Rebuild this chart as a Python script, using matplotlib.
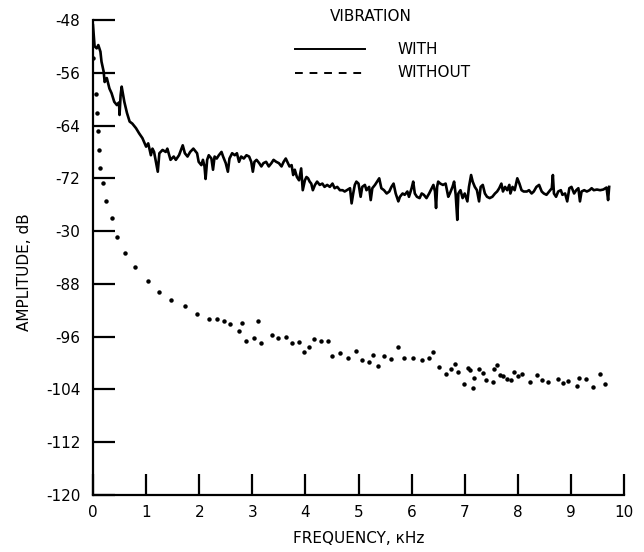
import matplotlib.pyplot as plt
import numpy as np

plt.rcParams['font.family'] = ['DejaVu Sans']

# "with vibration" spectrum (kHz, dB)
with_f = [0.00, 0.02, 0.03, 0.07, 0.10, 0.14, 0.16, 0.20, 0.22, 0.26, 0.31, 0.35,
          0.40, 0.45, 0.49, 0.50, 0.52, 0.54, 0.59, 0.64, 0.69, 0.74, 0.81, 0.87,
          0.93, 1.00, 1.04, 1.09, 1.12, 1.15, 1.22, 1.25, 1.31, 1.37, 1.40, 1.46,
          1.52, 1.56, 1.62, 1.69, 1.73, 1.78, 1.83, 1.89, 1.94, 1.96, 1.99, 2.04,
          2.07, 2.10, 2.12, 2.15, 2.18, 2.23, 2.26, 2.29, 2.33, 2.37, 2.42, 2.45,
          2.50, 2.54, 2.57, 2.62, 2.67, 2.71, 2.75, 2.79, 2.84, 2.89, 2.94, 2.98,
          3.01, 3.04, 3.08, 3.13, 3.17, 3.21, 3.26, 3.31, 3.36, 3.40, 3.45, 3.50,
          3.55, 3.59, 3.63, 3.67, 3.70, 3.74, 3.77, 3.80, 3.84, 3.88, 3.92, 3.95,
          3.99, 4.02, 4.05, 4.08, 4.11, 4.14, 4.18, 4.22, 4.27, 4.32, 4.36, 4.41,
          4.46, 4.51, 4.55, 4.60, 4.65, 4.70, 4.74, 4.78, 4.84, 4.87, 4.90, 4.93,
          4.96, 5.00, 5.04, 5.07, 5.12, 5.15, 5.20, 5.23, 5.26, 5.31, 5.35, 5.39,
          5.43, 5.48, 5.53, 5.58, 5.62, 5.66, 5.70, 5.75, 5.78, 5.83, 5.87, 5.92,
          5.95, 6.00, 6.03, 6.06, 6.10, 6.15, 6.19, 6.23, 6.28, 6.33, 6.38, 6.41,
          6.44, 6.46, 6.48, 6.50, 6.54, 6.59, 6.64, 6.69, 6.72, 6.77, 6.80, 6.83,
          6.86, 6.88, 6.92, 6.96, 7.00, 7.05, 7.08, 7.12, 7.15, 7.19, 7.23, 7.27,
          7.30, 7.34, 7.38, 7.42, 7.47, 7.52, 7.57, 7.61, 7.65, 7.69, 7.72, 7.76,
          7.80, 7.84, 7.86, 7.90, 7.94, 7.99, 8.03, 8.07, 8.11, 8.17, 8.21, 8.26,
          8.30, 8.35, 8.40, 8.45, 8.49, 8.54, 8.59, 8.64, 8.66, 8.68, 8.72, 8.76,
          8.81, 8.84, 8.89, 8.93, 8.97, 9.01, 9.06, 9.10, 9.14, 9.17, 9.20, 9.25,
          9.30, 9.35, 9.39, 9.43, 9.49, 9.55, 9.61, 9.67, 9.70, 9.72]
with_db = [-48.8, -50.8, -52.0, -52.3, -51.8, -52.8, -54.3, -55.8, -57.4, -56.8, -58.4, -59.1,
           -60.4, -60.9, -60.5, -62.4, -59.4, -58.1, -60.4, -62.1, -63.4, -63.7, -64.4, -65.2,
           -65.9, -67.2, -66.7, -68.5, -67.5, -68.0, -71.0, -68.2, -67.7, -68.0, -67.5, -69.2,
           -68.7, -69.2, -68.5, -67.0, -68.2, -68.7, -68.0, -67.5, -68.0, -68.2, -69.5, -70.0,
           -69.2, -70.2, -72.1, -69.2, -68.5, -69.0, -70.7, -68.7, -69.0, -68.5, -68.0, -68.7,
           -69.7, -71.0, -69.0, -68.2, -68.5, -68.2, -69.5, -68.7, -69.0, -68.5, -68.7, -69.5,
           -71.0, -69.5, -69.2, -69.7, -70.2, -69.7, -69.5, -70.2, -69.7, -69.2, -69.5, -69.7,
           -70.2, -69.5, -69.0, -69.7, -70.2, -70.0, -71.5, -70.7, -71.8, -72.3, -70.5, -73.8,
           -72.3, -71.8, -72.0, -72.5, -72.8, -73.8, -73.0, -72.5, -73.0, -72.8, -73.3, -73.0,
           -73.3, -72.8, -73.5, -73.3, -73.8, -73.8, -74.0, -73.8, -73.5, -75.8, -74.3, -73.0,
           -72.5, -72.8, -74.8, -73.3, -73.0, -73.8, -73.3, -75.3, -73.5, -73.0, -72.5, -72.0,
           -73.5, -73.8, -74.3, -74.0, -73.3, -72.8, -74.3, -75.5, -74.8, -74.3, -74.5, -74.0,
           -74.8, -73.5, -72.5, -74.3, -74.8, -75.0, -74.3, -74.5, -75.0, -74.3, -73.5, -73.0,
           -74.0, -76.5, -73.3, -72.5, -72.8, -73.0, -72.8, -74.8, -74.3, -73.3, -72.5, -74.5,
           -78.3, -74.3, -73.8, -75.0, -74.3, -75.5, -73.3, -71.5, -72.5, -73.3, -73.8, -75.5,
           -73.3, -73.0, -74.3, -74.8, -75.0, -74.8, -74.3, -74.0, -73.5, -72.8, -74.0, -73.3,
           -73.8, -73.0, -74.3, -73.3, -73.8, -72.0, -72.8, -73.8, -74.0, -74.0, -73.8, -74.3,
           -74.0, -73.3, -73.0, -74.0, -74.3, -74.5, -74.0, -73.5, -71.5, -74.3, -74.8, -74.0,
           -73.8, -74.5, -74.3, -75.5, -73.5, -73.3, -74.3, -73.8, -73.5, -75.5, -74.0, -73.8,
           -74.0, -73.8, -73.5, -73.8, -73.7, -73.8, -73.7, -73.4, -75.3, -73.3]

# "without vibration" spectrum, plotted as points
without_f = [0.00, 0.05, 0.07, 0.09, 0.12, 0.14, 0.19, 0.24, 0.35, 0.45, 0.60, 0.79,
             1.03, 1.25, 1.46, 1.73, 1.95, 2.19, 2.33, 2.47, 2.58, 2.75, 2.80, 2.88,
             3.04, 3.11, 3.16, 3.38, 3.49, 3.63, 3.74, 3.88, 3.97, 4.07, 4.17, 4.29,
             4.42, 4.51, 4.66, 4.80, 4.95, 5.06, 5.20, 5.27, 5.36, 5.48, 5.61, 5.74,
             5.86, 6.02, 6.19, 6.33, 6.40, 6.52, 6.64, 6.74, 6.82, 6.87, 6.98, 7.06,
             7.10, 7.15, 7.18, 7.26, 7.34, 7.41, 7.53, 7.55, 7.60, 7.66, 7.73, 7.79,
             7.87, 7.93, 8.01, 8.07, 8.22, 8.37, 8.45, 8.57, 8.75, 8.85, 8.94, 9.11,
             9.16, 9.28, 9.41, 9.54, 9.65]
without_db = [-53.7, -59.2, -62.1, -64.8, -67.7, -70.4, -72.7, -75.4, -78.0, -80.9, -83.3, -85.5,
              -87.5, -89.2, -90.5, -91.4, -92.6, -93.3, -93.3, -93.6, -94.1, -95.2, -94.0, -96.7,
              -96.2, -93.7, -96.9, -95.8, -96.2, -96.1, -96.9, -96.8, -98.4, -97.6, -96.4, -96.7,
              -96.7, -99.0, -98.5, -99.3, -98.1, -99.5, -99.8, -98.8, -100.4, -98.9, -99.4, -97.6,
              -99.3, -99.3, -99.5, -99.3, -98.4, -100.6, -101.6, -100.9, -100.2, -101.4, -103.2, -100.8,
              -101.0, -103.8, -102.2, -100.9, -101.5, -102.5, -102.9, -100.9, -100.3, -101.8, -101.9, -102.4,
              -102.5, -101.3, -101.9, -101.7, -102.8, -101.8, -102.5, -102.9, -102.4, -103.1, -102.7, -103.5,
              -102.3, -102.4, -103.7, -101.6, -103.2]

yticks = [-48, -56, -64, -72, -80, -88, -96, -104, -112, -120]
ytick_labels = ['-48', '-56', '-64', '-72', '-30', '-88', '-96', '-104', '-112', '-120']
xticks = [0, 1, 2, 3, 4, 5, 6, 7, 8, 9, 10]

fig = plt.figure(figsize=(6.44, 5.52), dpi=100)
ax = fig.add_axes([0.1444, 0.1033, 0.8246, 0.8605])

ax.plot(with_f, with_db, color='black', lw=1.9)
ax.plot(without_f, without_db, ls='none', marker='o', ms=2.2, color='black')

ax.set_xlim(0, 10)
ax.set_ylim(-120, -48)
ax.spines['top'].set_visible(False)
ax.spines['right'].set_visible(False)
for s in ('left', 'bottom'):
    ax.spines[s].set_linewidth(1.6)

ax.set_yticks(yticks)
ax.set_yticklabels(ytick_labels)
ax.set_xticks(xticks)
ax.tick_params(axis='y', direction='in', length=16, width=1.6, pad=9, labelsize=11)
ax.tick_params(axis='x', direction='in', length=15, width=1.6, pad=7, labelsize=11)

ax.set_xlabel('FREQUENCY, кHz', fontsize=11, labelpad=8)
ax.set_ylabel('AMPLITUDE, dB', fontsize=11)
ax.yaxis.set_label_coords(-0.115, 0.47)

# hand-drawn legend
ax.text(4.46, -47.4, 'VIBRATION', fontsize=11, va='center', ha='left', clip_on=False)
ax.plot([3.80, 5.12], [-52.4, -52.4], color='black', lw=1.4)
ax.text(5.74, -52.4, 'WITH', fontsize=11, va='center', ha='left')
ax.plot([3.80, 5.12], [-56.0, -56.0], color='black', lw=1.4, ls=(0, (4, 3.5)))
ax.text(5.74, -56.0, 'WITHOUT', fontsize=11, va='center', ha='left')

fig.savefig('out.png', dpi=100)
